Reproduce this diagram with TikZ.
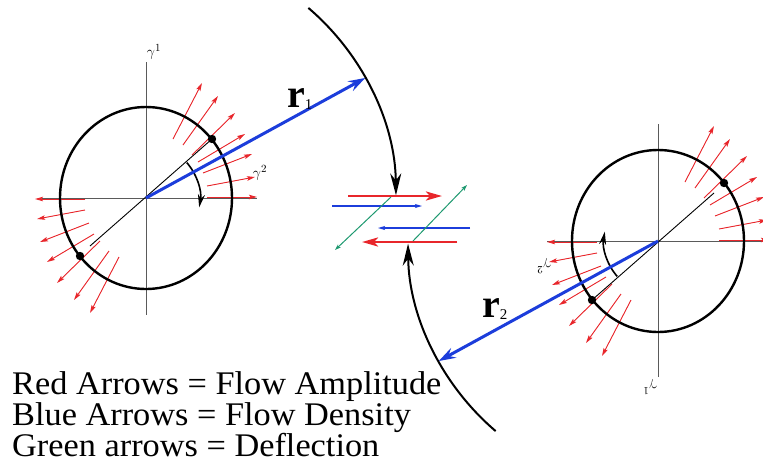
\documentclass[tikz,border=0pt]{standalone}
\usepackage{fontspec}
\setmainfont{Liberation Serif}
\newfontfamily\keyfont[FakeStretch=1.04]{Liberation Serif}
\usepackage{xcolor}
\definecolor{FlowRed}{HTML}{E8262B}
\definecolor{FlowBlue}{HTML}{1C3DDB}
\definecolor{FlowGreen}{HTML}{1E9970}
\definecolor{AxisGray}{HTML}{5A5A5A}
\usepackage{tikz}
\usetikzlibrary{arrows.meta}

\begin{document}
\begin{tikzpicture}[
  x=1pt,y=-1pt,
  ring/.style={draw=black,line width=2.4pt},
  axis/.style={draw=AxisGray,line width=0.9pt},
  ray/.style={draw=black,line width=0.9pt},
  amp/.style={-{Stealth[length=8pt,width=4.5pt,inset=1.5pt]},draw=FlowRed,fill=FlowRed,line width=0.9pt},
  ampbig/.style={-{Stealth[length=16pt,width=9pt,inset=4pt]},draw=FlowRed,fill=FlowRed,line width=2.8pt},
  dens/.style={-{Stealth[length=7pt,width=4pt,inset=1.5pt]},draw=FlowBlue,line width=1.2pt},
  defl/.style={-{Stealth[length=6pt,width=4pt,inset=1.5pt]},draw=FlowGreen,line width=1pt},
  rvec/.style={-{Stealth[open,length=17pt,width=11pt,inset=6pt]},draw=FlowBlue,line width=3pt},
  sweep/.style={-{Stealth[length=22pt,width=11pt,inset=7pt]},draw=black,line width=2pt},
  anglearc/.style={-{Stealth[length=13pt,width=7pt,inset=4pt]},draw=black,line width=1.6pt},
  glabel/.style={inner sep=0pt,font=\fontsize{15}{15}\selectfont},
  rlabel/.style={inner sep=0pt,font=\fontsize{40}{40}\selectfont\bfseries},
  legend/.style={inner sep=0pt,anchor=base west,font=\keyfont\fontsize{33}{33}\selectfont}
]
\useasboundingbox (0,0) rectangle (763,464);

% the two cells, the second one turned half way round
\foreach \cx/\cy/\rot/\nm in {146/198/0/L,658/241/180/R}{
  \begin{scope}[shift={(\cx,\cy)},rotate=\rot]
    \coordinate (c\nm) at (0,0);
    \draw[axis] (-104,0) -- (111,0);
    \draw[axis] (0,-136) -- (0,117);
    \node[glabel,transform shape] (g1\nm) at (8,-146) {$\gamma^1$};
    \node[glabel,transform shape] (g2\nm) at (114,-25) {$\gamma^2$};
    \foreach \a/\b/\c/\d in {27/-59/56/-115,37/-53/72/-102,46/-43/89/-85,52/-36/99/-64,57/-25/106/-44,61/-12/109/-21,61/-1/111/-1}{
      \draw[amp] (\a,\b) -- (\c,\d);
      \draw[amp,rotate=180] (\a,\b) -- (\c,\d);
    }
    \draw[ring] (0,0) ellipse [x radius=86,y radius=91];
    \coordinate (p\nm) at (66,-59);
    \coordinate (q\nm) at (-56,48);
    \draw[ray] (q\nm) -- (p\nm);
    \fill (p\nm) circle [radius=4.2pt];
    \fill (-66,58) circle [radius=4.2pt];
    \draw[anglearc] (-41:54) arc [start angle=-41,end angle=10,radius=54];
    \coordinate (t\nm) at (-28.7:250);
    \draw[rvec] (c\nm) -- (t\nm);
    \draw[sweep] (-49.5:250) arc [start angle=-49.5,end angle=-0.6,radius=250];
  \end{scope}
}

\node[rlabel,anchor=base west] (r1) at (287,107) {r\raisebox{-2pt}{\fontsize{15}{15}\selectfont\mdseries 1}};
\node[rlabel,anchor=base west] (r2) at (482,317) {r\raisebox{-2pt}{\fontsize{15}{15}\selectfont\mdseries 2}};

% flows in the middle
\draw[ampbig] (348,196) -- (442,196);
\draw[dens] (332,206) -- (422,206);
\draw[defl] (391,197) -- (335,250);
\draw[dens] (470,228) -- (378,228);
\draw[ampbig] (457,242) -- (362,242);
\draw[defl] (413,241) -- (467,185);

\node[legend] (key1) at (12,394) {Red Arrows = Flow Amplitude};
\node[legend] (key2) at (12,425) {Blue Arrows = Flow Density};
\node[legend] (key3) at (12,456) {Green arrows = Deflection};
\end{tikzpicture}
\end{document}
